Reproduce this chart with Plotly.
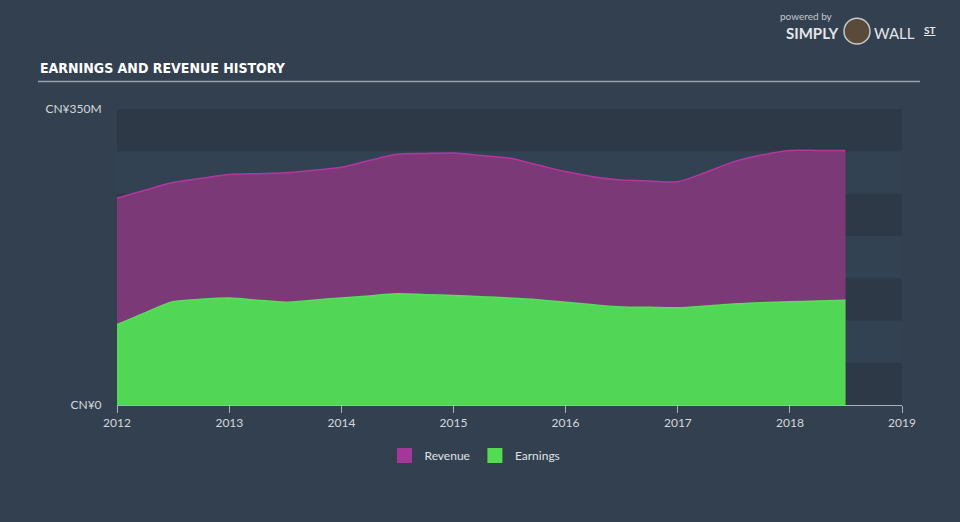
import pandas as pd
import plotly.graph_objects as go

# ---- data (CN¥ millions, quarterly) ----
dates = pd.date_range("2012-01-01", "2018-07-01", freq="QS").strftime("%Y-%m-%d").tolist()
revenue = [244.6, 254, 263, 268, 272.5, 273.5, 274.5, 277.5, 281, 289, 296.5, 297.5,
           298, 295, 292, 284, 276, 270, 266, 265, 264, 275, 287.5, 295.5, 301, 301, 301]
earnings = [95, 109, 122, 125, 126.5, 124, 121.5, 124, 126.5, 129, 131.5, 130.5,
            129.5, 128, 126.5, 124.5, 121.5, 118.5, 116, 115.5, 115, 117, 119.5, 121, 122, 123, 124]
x_ticks = ["2012", "2013", "2014", "2015", "2016", "2017", "2018", "2019"]
y_tickvals = [0, 350]
y_ticktext = ["CN¥0", "CN¥350M"]
band_edges = [0, 50, 100, 150, 200, 250, 300, 350]

BG = "#334050"
BAND_DARK = "#2d3947"
BAND_LIGHT = "#334253"

# pixel helpers for paper coords (plot area: x 117..902, y 109..405.5)
L, R, T, B = 117, 902, 109, 405.5
def px(x):
    return (x - L) / (R - L)
def py(y):
    return (B - y) / (B - T)

fig = go.Figure()
fig.add_trace(go.Scatter(
    x=dates, y=revenue, name="Revenue", mode="lines", showlegend=False,
    line=dict(color="#b2379f", width=1.5, shape="spline", smoothing=0.8),
    fill="tozeroy", fillcolor="#7b3a77",
))
fig.add_trace(go.Scatter(
    x=dates, y=earnings, name="Earnings", mode="lines", showlegend=False,
    line=dict(color="#58de5b", width=1.5, shape="spline", smoothing=0.8),
    fill="tozeroy", fillcolor="#52d655",
))
# legend swatches
fig.add_trace(go.Scatter(x=[None], y=[None], name="Revenue", mode="markers",
                         marker=dict(symbol="square", size=15, color="#a3379a")))
fig.add_trace(go.Scatter(x=[None], y=[None], name="Earnings", mode="markers",
                         marker=dict(symbol="square", size=15, color="#52dc52")))

shapes = []
for i in range(len(band_edges) - 1):
    shapes.append(dict(
        type="rect", xref="x", yref="y", layer="below",
        x0="2012-01-01", x1="2019-01-01", y0=band_edges[i], y1=band_edges[i + 1],
        fillcolor=BAND_DARK if i % 2 == 0 else BAND_LIGHT, line=dict(width=0),
    ))
# title underline
shapes.append(dict(type="line", xref="paper", yref="paper",
                   x0=px(38), x1=px(920), y0=py(81.5), y1=py(81.5),
                   line=dict(color="#9aa2ab", width=1.5)))
# logo circle
shapes.append(dict(type="circle", xref="paper", yref="paper",
                   x0=px(844), x1=px(870), y0=py(44), y1=py(18),
                   fillcolor="#5a4a3a", line=dict(color="#c8c8c8", width=1.5)))

annotations = [
    dict(text="<b>EARNINGS AND REVENUE HISTORY</b>", xref="paper", yref="paper",
         x=px(38), y=py(68), xanchor="left", yanchor="middle", showarrow=False,
         font=dict(family="DejaVu Sans Condensed", size=14, color="#ffffff")),
    dict(text="powered by", xref="paper", yref="paper", x=px(806), y=py(16),
         xanchor="center", yanchor="middle", showarrow=False,
         font=dict(family="Lato", size=10, color="#c4c8cc")),
    dict(text="<b>SIMPLY</b>", xref="paper", yref="paper", x=px(841), y=py(33),
         xanchor="right", yanchor="middle", showarrow=False,
         font=dict(family="Lato", size=15, color="#e4e6e8")),
    dict(text="WALL", xref="paper", yref="paper", x=px(872), y=py(33),
         xanchor="left", yanchor="middle", showarrow=False,
         font=dict(family="Lato", size=15, color="#e4e6e8")),
    dict(text="<u><b>ST</b></u>", xref="paper", yref="paper", x=px(922), y=py(30),
         xanchor="left", yanchor="middle", showarrow=False,
         font=dict(family="Lato", size=10, color="#e4e6e8")),
]

fig.update_layout(
    width=960, height=522,
    margin=dict(l=L, r=960 - R, t=T, b=522 - B),
    paper_bgcolor=BG, plot_bgcolor=BG,
    font=dict(family="Lato", size=12, color="#d4d8dc"),
    showlegend=True,
    legend=dict(orientation="h", x=px(475), y=py(456), xanchor="center", yanchor="middle",
                font=dict(family="Lato", size=12, color="#dfe2e5"),
                bgcolor="rgba(0,0,0,0)", traceorder="normal"),
    shapes=shapes, annotations=annotations,
    xaxis=dict(type="date", range=["2012-01-01", "2019-01-01"],
               tickvals=[f"{t}-01-01" for t in x_ticks], ticktext=x_ticks,
               showgrid=False, zeroline=False, showline=True, linecolor="#a7afb8", linewidth=1,
               ticks="outside", ticklen=7, tickcolor="#a7afb8", tickwidth=1,
               tickfont=dict(size=12, color="#d4d8dc")),
    yaxis=dict(range=[0, 350], tickvals=y_tickvals, ticktext=y_ticktext,
               showgrid=False, zeroline=False, showline=False,
               ticks="outside", ticklen=12, tickcolor="rgba(0,0,0,0)",
               tickfont=dict(size=12, color="#d4d8dc")),
)

fig.write_html("out.html")
